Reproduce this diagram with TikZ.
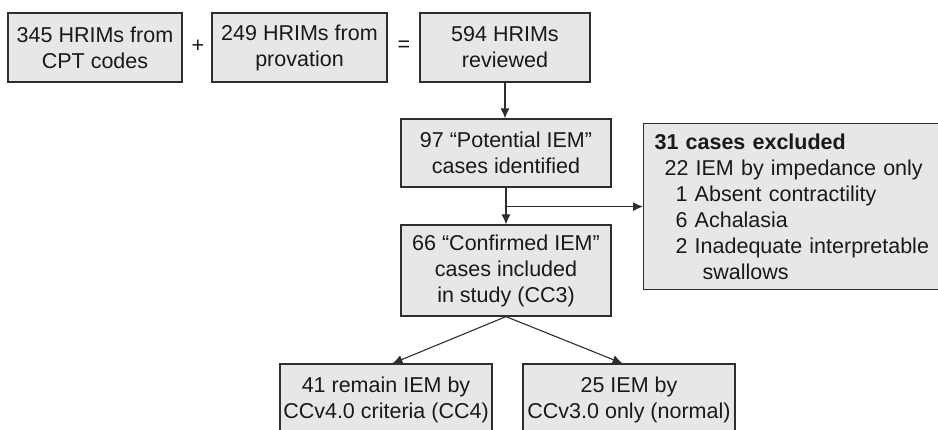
\documentclass[tikz,border=0pt]{standalone}
\usepackage{fontspec}
\setmainfont{Liberation Sans}
\usetikzlibrary{arrows.meta}
\usepackage{xcolor}
\definecolor{kastenfill}{HTML}{E6E7E8}
\definecolor{kastenrand}{HTML}{2E2E2E}

\begin{document}
\begin{tikzpicture}[x=1pt,y=-1pt,>={Latex[length=10pt,width=9pt]},
  kasten/.style={draw=kastenrand,fill=kastenfill,line width=1.2pt,align=center,inner sep=0pt,text=black!90,font=\fontsize{21.5}{26}\selectfont},
  zeichen/.style={text=black!90,font=\fontsize{21.5}{26}\selectfont}]

\useasboundingbox (0,0) rectangle (938,429);

%Kaesten oben
\node[kasten,minimum width=174pt,minimum height=69pt] (cpt) at (95,47.5) {345 HRIMs from\\CPT codes};
\node[zeichen] (plus) at (198,46) {+};
\node[kasten,minimum width=175pt,minimum height=69pt] (prov) at (299.5,47.5) {249 HRIMs from\\provation};
\node[zeichen] (gleich) at (404,46) {=};
\node[kasten,minimum width=170pt,minimum height=69pt] (rev) at (505,47.5) {594 HRIMs\\reviewed};

%Kaesten Mitte
\node[kasten,minimum width=210pt,minimum height=68pt] (pot) at (506,153) {97 “Potential IEM”\\cases identified};
\node[kasten,minimum width=210pt,minimum height=91pt] (conf) at (506,270.5) {66 “Confirmed IEM”\\cases included\\in study (CC3)};
\node[kasten,align=left,anchor=north west,inner xsep=11pt,text width=320pt,minimum height=166pt] (excl) at (643,123) {\textbf{31 cases excluded}\\
\hspace*{10pt}22 IEM by impedance only\\
\hspace*{21pt}1 Absent contractility\\
\hspace*{21pt}6 Achalasia\\
\hspace*{21pt}2 Inadequate interpretable\\
\hspace*{48pt}swallows};

%Kaesten unten
\node[kasten,minimum width=212pt,minimum height=72pt] (rem) at (386,400) {41 remain IEM by\\CCv4.0 criteria (CC4)};
\node[kasten,minimum width=212pt,minimum height=72pt] (norm) at (629,400) {25 IEM by\\CCv3.0 only (normal)};

%Pfeile
\draw[->, line width=1.1pt, kastenrand] (rev.south) -- (rev.south |- pot.north);
\draw[->, line width=1.1pt, kastenrand] (pot.south) -- (conf.north);
\draw[->, line width=1.1pt, kastenrand] (excl.west -| pot.south) -- (excl.west);
\draw[->, line width=1.1pt, kastenrand] (conf.south) -- (rem.80);
\draw[->, line width=1.1pt, kastenrand] (conf.south) -- (norm.100);

\end{tikzpicture}
\end{document}
